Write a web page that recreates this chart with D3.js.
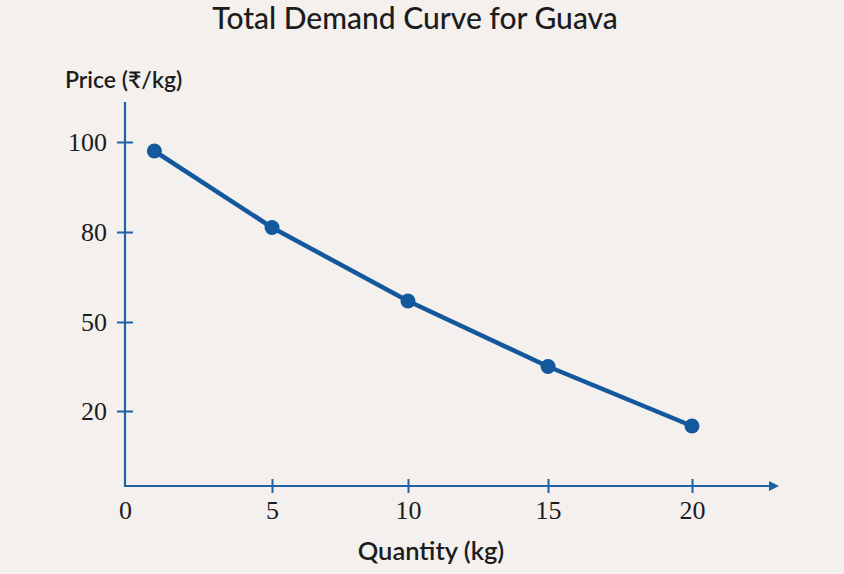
<!DOCTYPE html>
<html>
<head>
<meta charset="utf-8">
<script src="https://cdn.jsdelivr.net/npm/d3@7"></script>
<style>
  html, body { margin: 0; padding: 0; background: #f3f0ed; }
  svg { display: block; }
</style>
</head>
<body>
<svg id="chart" width="844" height="574"></svg>
<script>
// data
const quantity = [1, 5, 10, 15, 20];
const price = [98, 81, 57, 35, 16];

// tick labels (the y labels are spaced evenly even though the numbers are not)
const x_ticks = [0, 5, 10, 15, 20];
const y_ticks = [20, 50, 80, 100];

// colours
const line_blue = "#13579d";
const axis_blue = "#1f62a6";
const text_dark = "#1c1c1c";

const svg = d3.select("#chart");

// scales, piecewise so the ticks land where the picture has them
const xScale = d3.scaleLinear()
    .domain(x_ticks)
    .range([125, 272, 408, 548, 692]);

const yScale = d3.scaleLinear()
    .domain([0].concat(y_ticks))
    .range([486, 411, 322, 232, 142]);

// title
svg.append("text")
    .attr("x", 415)
    .attr("y", 29)
    .attr("text-anchor", "middle")
    .style("font-family", "Lato, 'Open Sans', sans-serif")
    .style("font-size", "30px")
    .style("font-weight", 500)
    .attr("fill", text_dark)
    .text("Total Demand Curve for Guava");

// y axis title
svg.append("text")
    .attr("x", 65)
    .attr("y", 88)
    .style("font-family", "Lato, 'Noto Sans', sans-serif")
    .style("font-size", "23px")
    .style("font-weight", 600)
    .attr("fill", text_dark)
    .text("Price (₹/kg)");

// x axis title
svg.append("text")
    .attr("x", 431)
    .attr("y", 560)
    .attr("text-anchor", "middle")
    .style("font-family", "Lato, 'Open Sans', sans-serif")
    .style("font-size", "25.5px")
    .style("font-weight", 600)
    .attr("fill", text_dark)
    .text("Quantity (kg)");

// axes - ticks cross the axis line, so shift the tick lines over
const yAxis = svg.append("g")
    .attr("transform", `translate(${xScale(0)},0)`)
    .call(d3.axisLeft(yScale).tickValues(y_ticks).tickSizeInner(8).tickSizeOuter(0).tickPadding(10));
yAxis.select(".domain").remove();
yAxis.selectAll(".tick line").attr("x2", -8).attr("x1", 8)
    .attr("stroke", axis_blue).attr("stroke-width", 2);
yAxis.selectAll(".tick text")
    .attr("x", -18)
    .attr("dy", "0.34em")
    .style("font-family", "'Liberation Serif', 'DejaVu Serif', serif")
    .style("font-size", "26px")
    .attr("fill", text_dark);

const xAxis = svg.append("g")
    .attr("transform", `translate(0,${yScale(0)})`)
    .call(d3.axisBottom(xScale).tickValues(x_ticks).tickSizeInner(7).tickSizeOuter(0));
xAxis.select(".domain").remove();
xAxis.selectAll(".tick line").attr("y1", -7).attr("y2", 7)
    .attr("stroke", axis_blue).attr("stroke-width", 2);
xAxis.selectAll(".tick").filter(d => d === 0).select("line").remove();
xAxis.selectAll(".tick text")
    .attr("y", 33)
    .attr("dy", 0)
    .style("font-family", "'Liberation Serif', 'DejaVu Serif', serif")
    .style("font-size", "26px")
    .attr("fill", text_dark);

// axis lines, x one ends in an arrow
svg.append("line")
    .attr("x1", xScale(0)).attr("x2", xScale(0))
    .attr("y1", yScale(0) + 1).attr("y2", 102)
    .attr("stroke", axis_blue).attr("stroke-width", 2.2);

svg.append("line")
    .attr("x1", xScale(0) - 1).attr("x2", 772)
    .attr("y1", yScale(0)).attr("y2", yScale(0))
    .attr("stroke", axis_blue).attr("stroke-width", 2.2);

svg.append("path")
    .attr("d", `M779,${yScale(0)} L769,${yScale(0) - 5} L769,${yScale(0) + 5} Z`)
    .attr("fill", axis_blue);

// demand line
const points = quantity.map((q, i) => ({ q: q, p: price[i] }));

const line_generator = d3.line()
    .x(d => xScale(d.q))
    .y(d => yScale(d.p));

svg.append("path")
    .attr("d", line_generator(points))
    .attr("fill", "none")
    .attr("stroke", line_blue)
    .attr("stroke-width", 4.5)
    .attr("stroke-linejoin", "round");

svg.selectAll("circle.pt")
    .data(points)
    .join("circle")
    .attr("class", "pt")
    .attr("cx", d => xScale(d.q))
    .attr("cy", d => yScale(d.p))
    .attr("r", 7.5)
    .attr("fill", line_blue);
</script>
</body>
</html>
